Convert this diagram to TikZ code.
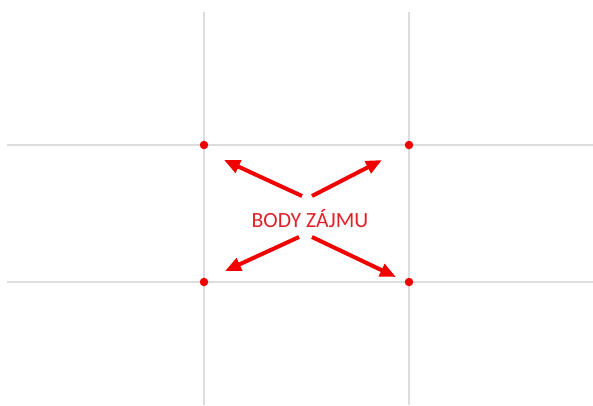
\documentclass[tikz,border=0pt]{standalone}
\usepackage{fontspec}
\setmainfont{Carlito}
\usetikzlibrary{arrows.meta}
\definecolor{gridline}{HTML}{DDDDDD}
\definecolor{pointred}{HTML}{F20000}
\definecolor{textred}{HTML}{E0202A}

\begin{document}
\begin{tikzpicture}[x=1pt, y=-1pt,
  grid/.style={draw=gridline, line width=1.6pt},
  pt/.style={circle, fill=pointred, inner sep=0pt, minimum size=8.5pt},
  arr/.style={-{Triangle[length=16pt, width=13pt]}, draw=pointred, line width=4pt},
  lab/.style={font=\fontsize{21.7}{24}\selectfont, text=textred, inner sep=0pt},
]
\useasboundingbox (0,0) rectangle (593,405);

% ── Rule-of-thirds lines ─────────────────────────────────────────────
\draw[grid] (204,12) -- (204,405);
\draw[grid] (409,12) -- (409,405);
\draw[grid] (7,145) -- (593,145);
\draw[grid] (7,282) -- (593,282);

% ── Points of interest ───────────────────────────────────────────────
\node[pt] (tl) at (204,145) {};
\node[pt] (tr) at (409,145) {};
\node[pt] (bl) at (204,282) {};
\node[pt] (br) at (409,282) {};

\node[lab] (body) at (310,219) {BODY ZÁJMU};

% arrow ends
\coordinate (stl) at (302,196);
\coordinate (str) at (312,196);
\coordinate (sbl) at (299,237);
\coordinate (sbr) at (312,237);
\coordinate (etl) at (224,160);
\coordinate (etr) at (382,160);
\coordinate (ebl) at (225,271);
\coordinate (ebr) at (396,277);

% ── Arrows ───────────────────────────────────────────────────────────
\draw[arr] (stl) -- (etl);
\draw[arr] (str) -- (etr);
\draw[arr] (sbl) -- (ebl);
\draw[arr] (sbr) -- (ebr);

\end{tikzpicture}
\end{document}
